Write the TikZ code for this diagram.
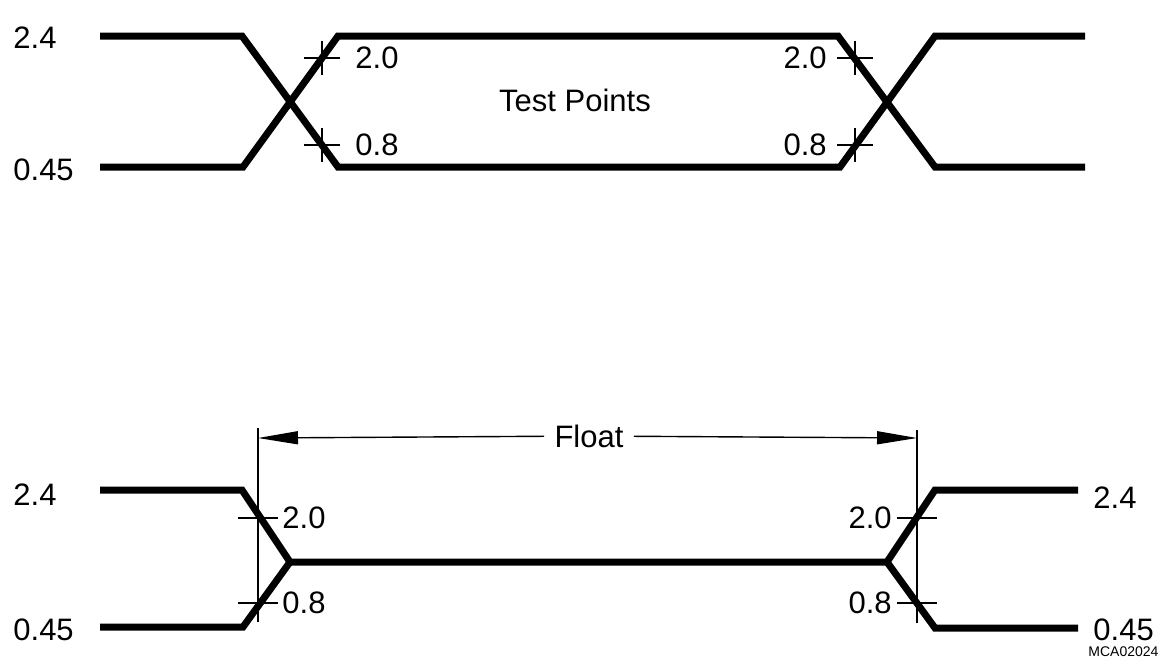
\documentclass[tikz,border=0pt]{standalone}
\usepackage{fontspec}
\setmainfont{Liberation Sans}
\usetikzlibrary{arrows.meta,positioning}

\tikzset{
  wave/.style={line width=3.5pt, line join=miter},
  tickmark/.style={line width=0.9pt},
  dimline/.style={line width=0.7pt},
  lbl/.style={inner sep=0pt, font=\fontsize{15.5}{16}\selectfont},
}

\begin{document}
\begin{tikzpicture}[x=0.5pt, y=-0.5pt]
        \useasboundingbox (0,0) rectangle (1159,659);
        \clip (0,0) rectangle (1159,659);
        % upper: test points
        \draw[wave] (100,36) -- (242,36) -- (338,167) -- (840,167) -- (935,36) -- (1085,36);
        \draw[wave] (100,167) -- (243,167) -- (338,36) -- (838,36) -- (935,167) -- (1085,167);
        \foreach \x/\y in {322/58, 322/145, 855/58, 855/145}
          \draw[tickmark] (\x-18,\y) -- (\x+18,\y) (\x,\y-17) -- (\x,\y+17);
        \node[lbl, right] (hiA) at (13,38) {2.4};
        \node[lbl, right] (loA) at (13,170) {0.45};
        \node[lbl, right] (tpA) at (355,58) {2.0};
        \node[lbl, right] (tpB) at (355,145) {0.8};
        \node[lbl, left] (tpC) at (827,58) {2.0};
        \node[lbl, left] (tpD) at (827,145) {0.8};
        \node[lbl] (test) at (575,100) {Test Points};
        % lower: float
        \draw[wave] (100,490) -- (242,490) -- (290,562) -- (887,562) -- (935,490) -- (1078,490);
        \draw[wave] (100,627) -- (243,627) -- (290,562);
        \draw[wave] (887,562) -- (935,628) -- (1078,628);
        \draw[dimline] (258,428) -- (258,622);
        \draw[dimline] (917,430) -- (917,623);
        \foreach \x/\y in {258/518, 258/603, 917/518, 917/603}
          \draw[tickmark] (\x-20,\y) -- (\x+20,\y);
        \coordinate (dimL) at (258,438);
        \coordinate (dimR) at (917,438);
        \node[lbl, inner xsep=5pt] (float) at (589,436) {Float};
        \draw[dimline, -{Triangle[length=20pt,width=6.5pt]}] (float) -- (dimL);
        \draw[dimline, -{Triangle[length=20pt,width=6.5pt]}] (float) -- (dimR);
        \node[lbl, right] (hiB) at (13,495) {2.4};
        \node[lbl, right] (loB) at (13,630) {0.45};
        \node[lbl, right] (fpA) at (282,518) {2.0};
        \node[lbl, right] (fpB) at (282,603) {0.8};
        \node[lbl, left] (fpC) at (892,518) {2.0};
        \node[lbl, left] (fpD) at (892,603) {0.8};
        \node[lbl, right] (hiC) at (1093,498) {2.4};
        \node[lbl, right] (loC) at (1093,630) {0.45};
        \node[inner sep=0pt, font=\fontsize{7}{7}\selectfont, anchor=south west] (code) at (1088,657) {MCA02024};
      \end{tikzpicture}
\end{document}
